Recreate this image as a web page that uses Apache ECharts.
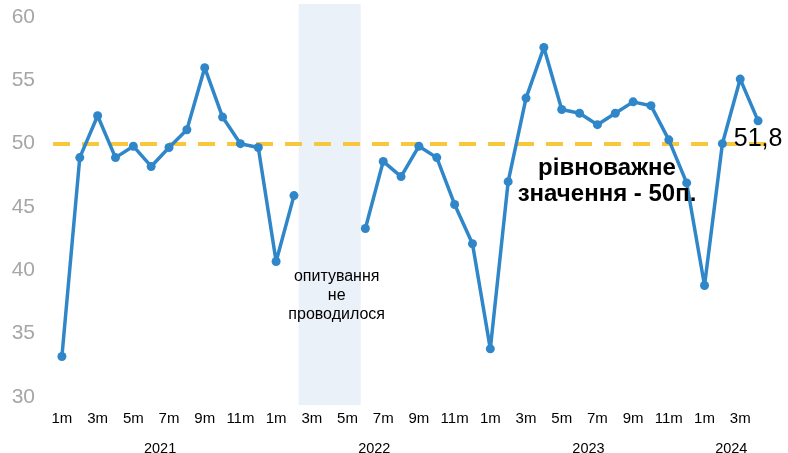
<!DOCTYPE html>
<html>
<head>
<meta charset="utf-8">
<script src="https://cdn.jsdelivr.net/npm/echarts@6/dist/echarts.min.js"></script>
<style>
  html, body { margin: 0; padding: 0; background: #fff; }
  #chart { width: 788px; height: 453px; }
</style>
</head>
<body>
<div id="chart"></div>
<script>
// Data
const years = [2021, 2022, 2023, 2024];
const monthsPerYear = [12, 12, 12, 4];
const values = [
  33.2, 48.9, 52.2, 48.9, 49.8, 48.2, 49.7, 51.1, 56.0, 52.1, 50.0, 49.7,   // 2021
  40.7, 45.9, null, null, null, 43.3, 48.6, 47.4, 49.8, 48.9, 45.2, 42.1,   // 2022
  33.8, 47.0, 53.6, 57.6, 52.7, 52.4, 51.5, 52.4, 53.3, 53.0, 50.3, 46.9,   // 2023
  38.8, 50.0, 55.1, 51.8                                                    // 2024
];
const yTicks = [30, 35, 40, 45, 50, 55, 60];
const equilibrium = 50;
const noSurveyMonth = 15; // middle of the gap (2022 3m-5m)

// month categories "1m".."12m"
const categories = [];
monthsPerYear.forEach(n => {
  for (let m = 1; m <= n; m++) categories.push(m + 'm');
});

// year label positions (centre of each year's span, in category units)
const yearCenters = [];
let start = 0;
monthsPerYear.forEach(n => {
  yearCenters.push(start + n / 2);
  start += n;
});

const bandData = categories.map((_, i) => (i === noSurveyMonth ? 1 : null));
const lastIdx = values.length - 1;

const font = 'Liberation Sans, Arial, sans-serif';
const chart = echarts.init(document.getElementById('chart'));

chart.setOption({
  animation: false,
  textStyle: { fontFamily: font },
  grid: [
    { left: 53, right: 21, top: 17, bottom: 56, outerBoundsMode: 'none' },
    { left: 53, right: 21, top: 4, bottom: 48, outerBoundsMode: 'none' }
  ],
  xAxis: [
    {
      type: 'category',
      gridIndex: 0,
      data: categories,
      axisLine: { show: false },
      axisTick: { show: false },
      axisLabel: { interval: 1, color: '#000', fontSize: 15, margin: 14 }
    },
    {
      type: 'value',
      gridIndex: 0,
      position: 'bottom',
      min: 0,
      max: categories.length,
      splitLine: { show: false },
      axisLine: { show: false },
      axisTick: { show: false },
      axisLabel: {
        customValues: yearCenters,
        color: '#000',
        fontSize: 14.5,
        margin: 44,
        formatter: v => {
          const i = yearCenters.indexOf(v);
          return i >= 0 ? String(years[i]) : '';
        }
      }
    },
    {
      type: 'category',
      gridIndex: 1,
      data: categories,
      show: false
    }
  ],
  yAxis: [
    {
      type: 'value',
      gridIndex: 0,
      min: yTicks[0],
      max: yTicks[yTicks.length - 1],
      interval: 5,
      splitLine: { show: false },
      axisLine: { show: false },
      axisTick: { show: false },
      axisLabel: { color: '#A6A6A6', fontSize: 21, margin: 18, padding: [4, 0, 0, 0] }
    },
    {
      type: 'value',
      gridIndex: 1,
      min: 0,
      max: 1,
      show: false
    }
  ],
  graphic: [
    {
      type: 'text',
      x: 607,
      y: 155,
      z: 10,
      style: {
        text: 'рівноважне\nзначення - 50п.',
        fill: '#000',
        font: 'bold 24px ' + font,
        align: 'center',
        verticalAlign: 'top',
        lineHeight: 26
      }
    }
  ],
  series: [
    {
      type: 'bar',
      xAxisIndex: 2,
      yAxisIndex: 1,
      data: bandData,
      barWidth: 62,
      silent: true,
      z: 1,
      itemStyle: { color: '#EAF1F9' },
      label: {
        show: true,
        position: [38, 263],
        align: 'center',
        formatter: 'опитування\nне\nпроводилося',
        color: '#000',
        fontSize: 16,
        lineHeight: 19
      }
    },
    {
      type: 'line',
      data: values.map((v, i) => i === lastIdx
        ? { value: v, label: { show: true } }
        : v),
      connectNulls: false,
      symbol: 'circle',
      symbolSize: 9,
      z: 5,
      lineStyle: { color: '#2F87C9', width: 3.5 },
      itemStyle: { color: '#2F87C9' },
      label: {
        show: false,
        position: 'bottom',
        distance: 1,
        color: '#000',
        fontSize: 25,
        formatter: p => String(p.value).replace('.', ',')
      },
      markLine: {
        silent: true,
        symbol: 'none',
        z: 3,
        label: { show: false },
        lineStyle: { color: '#F9C73C', width: 4, type: [17, 12] },
        data: [{ yAxis: equilibrium }]
      }
    }
  ]
});
</script>
</body>
</html>
